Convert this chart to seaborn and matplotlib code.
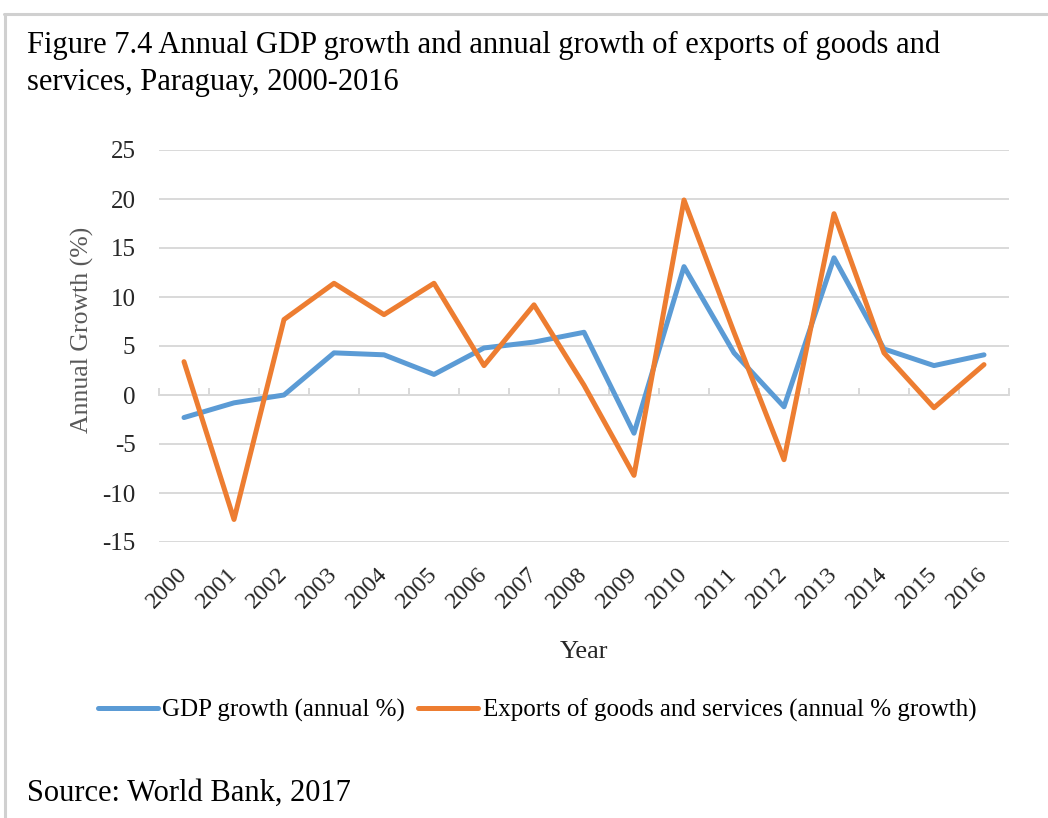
import numpy as np
import pandas as pd
import matplotlib
matplotlib.use("Agg")
import matplotlib.pyplot as plt
from matplotlib.lines import Line2D
import seaborn as sns

# datos (Banco Mundial, 2017)
years = list(range(2000, 2017))
gdp_growth = [-2.3, -0.8, 0.0, 4.3, 4.1, 2.1, 4.8, 5.4, 6.4, -3.9,
              13.1, 4.3, -1.2, 14.0, 4.7, 3.0, 4.1]
exports_growth = [3.4, -12.7, 7.7, 11.4, 8.2, 11.4, 3.0, 9.2, 1.0, -8.2,
                  19.9, 6.4, -6.6, 18.5, 4.3, -1.3, 3.1]
series_names = ["GDP growth (annual %)",
                "Exports of goods and services (annual % growth)"]
y_ticks = [-15, -10, -5, 0, 5, 10, 15, 20, 25]

title_lines = ["Figure 7.4 Annual GDP growth and annual growth of exports of goods and",
               "services, Paraguay, 2000-2016"]
source_text = "Source: World Bank, 2017"

BLUE = "#5B9BD5"
ORANGE = "#ED7D31"
GRID = "#D9D9D9"

sns.set_theme(style="white")
plt.rcParams["font.family"] = ["Liberation Serif", "DejaVu Serif"]
plt.rcParams["text.color"] = "#000000"
plt.rcParams["axes.unicode_minus"] = False

df = pd.DataFrame({
    "year": years * 2,
    "value": gdp_growth + exports_growth,
    "series": [series_names[0]] * len(years) + [series_names[1]] * len(years),
})

fig = plt.figure(figsize=(10.48, 8.18), dpi=100)
ax = fig.add_axes([159 / 1048, 1 - 542 / 818, 850 / 1048, 392 / 818])

sns.lineplot(
    data=df, x="year", y="value", hue="series",
    palette={series_names[0]: BLUE, series_names[1]: ORANGE},
    linewidth=3.6, ax=ax, legend=True,
)
for ln in ax.lines:
    ln.set_solid_capstyle("round")

ax.set_xlim(years[0] - 0.5, years[-1] + 0.5)
ax.set_ylim(y_ticks[0], y_ticks[-1])
ax.set_yticks(y_ticks)
ax.set_xticks(years)
ax.set_xticklabels([str(y) for y in years], rotation=45, ha="right",
                   rotation_mode="anchor", va="center")
ax.tick_params(axis="x", length=0, pad=21, labelsize=17.5)
ax.tick_params(axis="y", length=0, pad=17, labelsize=18)
ax.yaxis.grid(True, color=GRID, linewidth=1.4)
ax.set_axisbelow(True)
for sp in ax.spines.values():
    sp.set_visible(False)

# eje de categorias en y=0 con marcas entre categorias
secax = ax.secondary_xaxis(0, transform=ax.transData)
secax.set_xticks([y - 0.5 for y in years] + [years[-1] + 0.5])
secax.set_xticklabels([])
secax.tick_params(direction="in", length=5, width=1.4, color=GRID)
secax.spines["bottom"].set_color(GRID)
secax.spines["bottom"].set_linewidth(1.4)

ax.set_xlabel("Year", fontsize=19, labelpad=20)
ax.set_ylabel("Annual Growth (%)", fontsize=18.5, color="#595959", labelpad=6)
ax.yaxis.label.set_y((542 - 330) / 392)

handles, labels = ax.get_legend_handles_labels()
ax.get_legend().remove()
fig.legend(handles, labels, loc="center", bbox_to_anchor=(537 / 1048, 1 - 710 / 818),
           ncol=2, frameon=False, fontsize=18, handlelength=2.4,
           handletextpad=0.2, columnspacing=0.5)

fig.text(27 / 1048, 1 - 53 / 818, title_lines[0], fontsize=22, va="baseline")
fig.text(27 / 1048, 1 - 90 / 818, title_lines[1], fontsize=22, va="baseline")
fig.text(27 / 1048, 1 - 801 / 818, source_text, fontsize=22, va="baseline")

# marco gris del cuadro
fig.add_artist(Line2D([4 / 1048, 1], [1 - 14 / 818, 1 - 14 / 818],
                      transform=fig.transFigure, color="#D0D0D0", linewidth=2.2))
fig.add_artist(Line2D([5 / 1048, 5 / 1048], [0, 1 - 14 / 818],
                      transform=fig.transFigure, color="#D0D0D0", linewidth=2.2))

fig.savefig("out.png", dpi=100)
plt.close(fig)
